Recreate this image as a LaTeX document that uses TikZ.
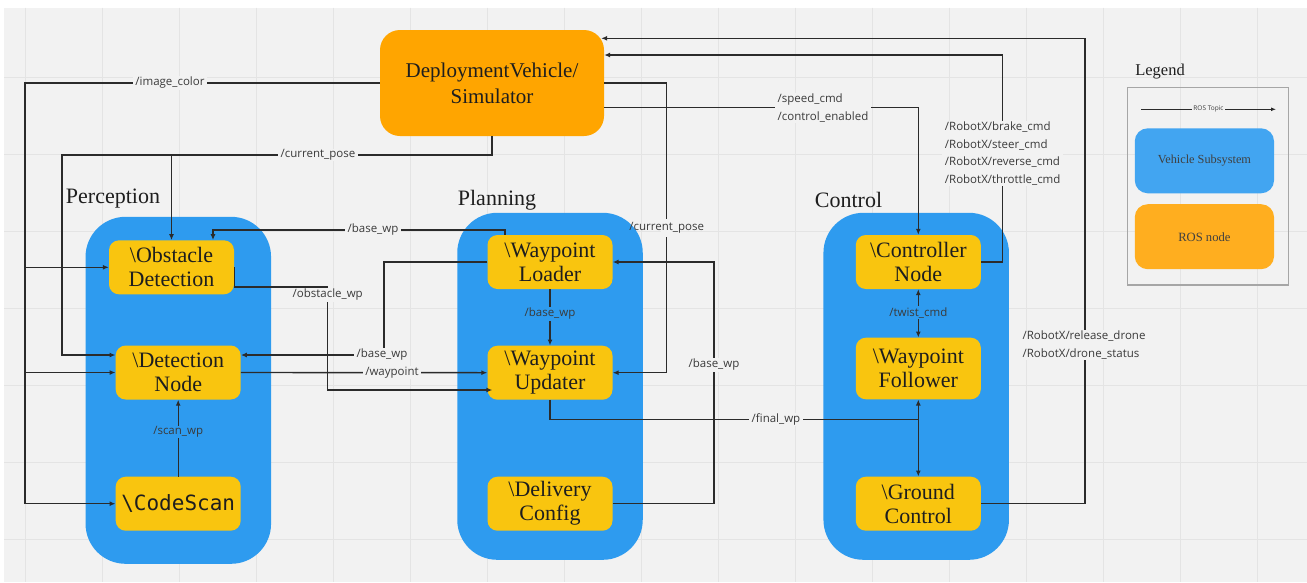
\documentclass[tikz,border=0pt]{standalone}
\usepackage{fontspec}
\setmainfont{Liberation Serif}
\newfontfamily\tagfont{Open Sans}
\newfontfamily\codefont{DejaVu Sans Mono}
\usetikzlibrary{arrows.meta,calc}

\definecolor{canvas}{HTML}{F2F2F2}
\definecolor{gridc}{HTML}{E4E4E4}
\definecolor{subsys}{HTML}{2E9BEF}
\definecolor{rosnode}{HTML}{F9C50F}
\definecolor{sim}{HTML}{FFA500}
\definecolor{wirec}{HTML}{2B2B2B}
\definecolor{legblue}{HTML}{42A5F1}
\definecolor{legorange}{HTML}{FFAE1F}
\definecolor{ink}{HTML}{1E1E1E}
\definecolor{tagink}{HTML}{3A3A3A}

\begin{document}
\begin{tikzpicture}[x=1pt,y=-1pt,
  group/.style={fill=subsys, rounded corners=40pt, inner sep=0pt, minimum width=185.5pt, minimum height=347pt},
  grouptitle/.style={font=\fontsize{22}{24}\selectfont, text=ink},
  rnode/.style={fill=rosnode, rounded corners=10pt, minimum width=125pt, minimum height=54pt,
    inner sep=0pt, align=center, font=\fontsize{22}{24}\selectfont, text=ink},
  wire/.style={draw=wirec, line width=1.4pt},
  arr/.style={wire, -{Latex[length=6pt,width=5pt]}},
  biarr/.style={wire, {Latex[length=6pt,width=5pt]}-{Latex[length=6pt,width=5pt]}},
  tag/.style={font=\tagfont\fontsize{11.5}{17.8}\selectfont, text=tagink, fill=canvas,
    inner xsep=2.5pt, inner ysep=1pt, align=left},
  tagin/.style={tag, fill=subsys},
  legbox/.style={rounded corners=13pt, minimum width=139.3pt, minimum height=65pt,
    inner sep=0pt, text=ink!85}
]
\useasboundingbox (0,0) rectangle (1307,582);

% canvas with grid
\fill[white] (0,0) rectangle (1307,582);
\fill[canvas] (4,7.5) rectangle (1307,582);
\foreach \gx in {25,102,...,1257} \draw[gridc, line width=1pt] (\gx,7.5) -- (\gx,582);
\foreach \gy in {77.5,154.5,...,540} \draw[gridc, line width=1pt] (4,\gy) -- (1307,\gy);

% subsystems
\node[group] (perc) at (178.3,390.3) {};
\node[group] (plan) at (550,386.3) {};
\node[group] (ctrl) at (916.2,386.3) {};
\node[grouptitle] (percT) at (113,199) {Perception};
\node[grouptitle] (planT) at (497,200) {Planning};
\node[grouptitle] (ctrlT) at (848.5,200) {Control};

% simulator
\node[fill=sim, rounded corners=20pt, minimum width=224pt, minimum height=106pt, inner sep=0pt,
  align=center, font=\fontsize{21}{26}\selectfont, text=ink] (dv) at (492,83) {DeploymentVehicle/\\Simulator};

% ROS nodes
\node[rnode] (obs) at (171.5,267.3) {\textbackslash Obstacle\\Detection};
\node[rnode] (det) at (178.2,372.5) {\textbackslash Detection\\Node};
\node[rnode, font=\codefont\fontsize{21}{24}\selectfont] (scan) at (178.2,503.7) {\textbackslash CodeScan};
\node[rnode] (load) at (550,262) {\textbackslash Waypoint\\Loader};
\node[rnode] (upd) at (550,372.7) {\textbackslash Waypoint\\Updater};
\node[rnode] (dlv) at (550,503.7) {\textbackslash Delivery\\Config};
\node[rnode] (ctl) at (918.3,262) {\textbackslash Controller\\Node};
\node[rnode, minimum height=61.6pt] (fol) at (918.3,368.5) {\textbackslash Waypoint\\Follower};
\node[rnode] (gnd) at (918.3,503.7) {\textbackslash Ground\\Control};

% helper coordinates for wire routing
\coordinate (xl) at (25,0);
\coordinate (xm) at (62,0);
\coordinate (ycp) at (0,155);
\coordinate (yfw) at (0,419.3);

% camera image to perception
\draw[arr] (dv.west) -| (xl |- scan.west) -- (scan.west);
\draw[arr] (xl |- obs.west) -- (obs.west);
\draw[arr] (xl |- det.west) -- (det.west);
\node[tag] (tImg) at (170,83) {/image\_color};

% pose to perception
\draw[arr] (dv.south) |- (xm |- ycp) -- (62,355) -- ($(det.west)+(0,-17.5)$);
\draw[arr] (obs.north |- ycp) -- (obs.north);
\node[tag] (tPose1) at (318,155) {/current\_pose};

% base waypoints to obstacle detection
\draw[arr] ($(load.north)+(-45,0)$) |- (213,230) -- ($(obs.north)+(41.5,0)$);
\node[tag] (tBase1) at (373,230) {/base\_wp};

% obstacle waypoints to updater
\draw[arr] (obs.east) -- ++(0,19.5) -| (327.7,390) -- ($(upd.west)+(5,17.3)$);
\node[tag] (tObs) at (327.7,295) {/obstacle\_wp};

% base waypoints to detection node
\draw[arr] (load.west) -| (384,355) -- ($(det.east)+(0,-17.5)$);
\node[tag] (tBase2) at (382,355) {/base\_wp};

% detection waypoint to updater
\draw[arr] (det.east) -- (upd.west);
\node[tag] (tWp) at (392,372.6) {/waypoint};

% scan waypoints
\draw[arr] (scan.north) -- (det.south);
\node[tagin] (tScan) at (178.2,432) {/scan\_wp};

% loader to updater
\draw[arr] (load.south) -- (upd.north);
\node[tagin] (tBase3) at (550,314) {/base\_wp};

% pose to updater
\draw[arr] (dv.east) -| (666.7,372.7) -- (upd.east);
\fill[canvas] (661,219) rectangle (672.5,237);
\node[tag, fill=none] (tPose2) at (666.7,227.7) {/current\_pose};

% delivery config to loader
\draw[arr] (dlv.east) -| (714,262) -- (load.east);
\node[tag] (tBase4) at (714,365) {/base\_wp};

% final waypoints
\draw[wire] (upd.south) |- (fol.south |- yfw);
\draw[biarr] (fol.south) -- (gnd.north);
\node[tag] (tFinal) at (776,419.3) {/final\_wp};

% twist command
\draw[biarr] (ctl.south) -- (fol.north);
\node[tagin] (tTwist) at (918.3,312.7) {/twist\_cmd};

% speed command to controller
\draw[arr] ($(dv.east)+(0,24.6)$) -| (ctl.north);
\node[tag] (tSpeed) at (823,107.7) {/speed\_cmd\\/control\_enabled};

% vehicle commands back to simulator
\draw[arr] (ctl.east) -| (1002.7,55) -- ($(dv.east)+(0,-28)$);
\node[tag] (tRobot) at (1002.7,153.5) {/RobotX/brake\_cmd\\/RobotX/steer\_cmd\\/RobotX/reverse\_cmd\\/RobotX/throttle\_cmd};

% drone release
\draw[arr] (gnd.east) -| (1085,38.3) -- ($(dv.east)+(-3,-44.7)$);
\node[tag] (tDrone) at (1084,345) {/RobotX/release\_drone\\/RobotX/drone\_status};

% legend
\node[font=\fontsize{16.5}{18}\selectfont, text=ink] (legT) at (1160,71.7) {Legend};
\node[draw=gray!70, line width=1.2pt, minimum width=161.4pt, minimum height=197.7pt, inner sep=0pt] (leg) at (1208,186.2) {};
\coordinate (legA) at (1141,109.3);
\coordinate (legB) at (1276,109.3);
\draw[wire, line width=1pt, -{Latex[length=5pt,width=4pt]}] (legA) -- node[fill=canvas, inner sep=1pt, font=\tagfont\fontsize{6.5}{7}\selectfont, text=tagink] (legTopic) {ROS Topic} (legB);
\node[legbox, fill=legblue, font=\fontsize{12.3}{14}\selectfont] (legSub) at (1204.4,160.8) {Vehicle Subsystem};
\node[legbox, fill=legorange, font=\fontsize{12.6}{14}\selectfont] (legNode) at (1204.4,236.7) {ROS node};
\end{tikzpicture}
\end{document}
